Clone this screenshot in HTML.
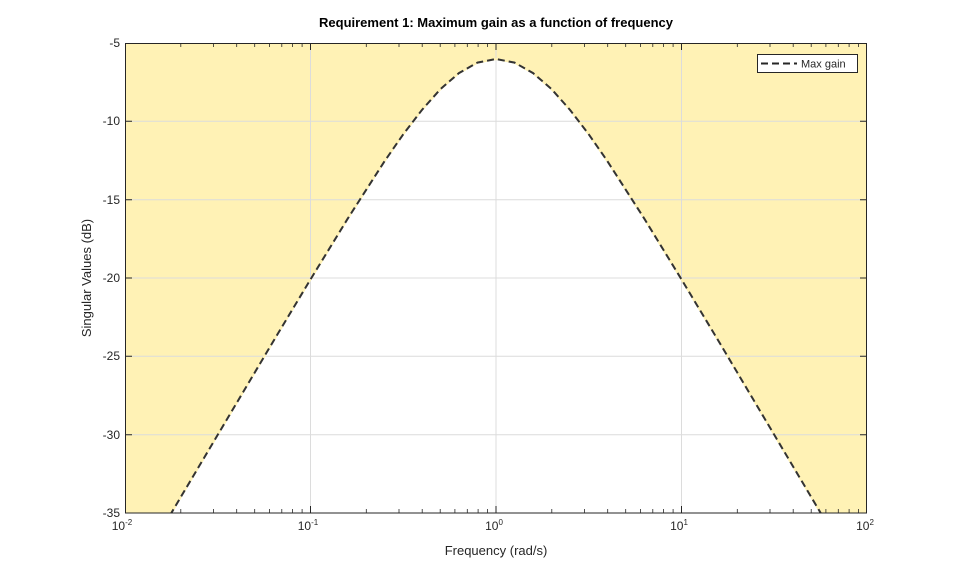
<!DOCTYPE html><html><head><style>body{margin:0;background:#fff}svg{display:block}text{font-family:"Liberation Sans",sans-serif;fill:#262626}</style></head><body>
<svg width="959" height="577" xmlns="http://www.w3.org/2000/svg">
<defs><clipPath id="c"><rect x="125" y="43" width="742" height="470"/></clipPath></defs>
<rect x="125" y="43" width="742" height="470" fill="#fff"/>
<g clip-path="url(#c)">
<path fill="#fff2b5" d="M125,591 L217.75,434.8 L273.4,341.1 L310.5,279.4 L347.6,218.8 L384.7,161 L403.25,134.3 L421.8,110.1 L440.35,89.2 L458.9,73.1 L477.45,62.6 L496,59 L514.55,62.6 L533.1,73.1 L551.65,89.2 L570.2,110.1 L588.75,134.3 L607.3,161 L644.4,218.8 L681.5,279.4 L718.6,341.1 L774.25,434.8 L867,591 L867,43 L125,43 Z"/>
<g stroke="#dcdcdc" stroke-width="1">
<line x1="310.5" y1="43" x2="310.5" y2="513"/><line x1="496" y1="43" x2="496" y2="513"/><line x1="681.5" y1="43" x2="681.5" y2="513"/>
<line x1="125" y1="121.3" x2="867" y2="121.3"/><line x1="125" y1="199.7" x2="867" y2="199.7"/><line x1="125" y1="278" x2="867" y2="278"/><line x1="125" y1="356.3" x2="867" y2="356.3"/><line x1="125" y1="434.7" x2="867" y2="434.7"/>
</g>
<path fill="none" stroke="#fff2b5" stroke-width="2" d="M125,591 L217.75,434.8 L273.4,341.1 L310.5,279.4 L347.6,218.8 L384.7,161 L403.25,134.3 L421.8,110.1 L440.35,89.2 L458.9,73.1 L477.45,62.6 L496,59 L514.55,62.6 L533.1,73.1 L551.65,89.2 L570.2,110.1 L588.75,134.3 L607.3,161 L644.4,218.8 L681.5,279.4 L718.6,341.1 L774.25,434.8 L867,591"/>
<path fill="none" stroke="#333" stroke-width="2" stroke-dasharray="7,4" d="M125,591 L217.75,434.8 L273.4,341.1 L310.5,279.4 L347.6,218.8 L384.7,161 L403.25,134.3 L421.8,110.1 L440.35,89.2 L458.9,73.1 L477.45,62.6 L496,59 L514.55,62.6 L533.1,73.1 L551.65,89.2 L570.2,110.1 L588.75,134.3 L607.3,161 L644.4,218.8 L681.5,279.4 L718.6,341.1 L774.25,434.8 L867,591"/>
</g>
<g id="tk" stroke="#262626" stroke-width="1"></g>
<rect x="125.5" y="43.5" width="741" height="469.5" fill="none" stroke="#262626"/>
<g stroke="#262626">
<!-- major x ticks -->
<path d="M310.5,513v-7M496,513v-7M681.5,513v-7M310.5,43v7M496,43v7M681.5,43v7"/>
<path d="M125,121.3h7M125,199.7h7M125,278h7M125,356.3h7M125,434.7h7M867,121.3h-7M867,199.7h-7M867,278h-7M867,356.3h-7M867,434.7h-7"/>
<path stroke-width="0.8" d="M180.8,513v-4M213.5,513v-4M236.7,513v-4M254.7,513v-4M269.4,513v-4M281.8,513v-4M292.6,513v-4M302.1,513v-4
M366.3,513v-4M399,513v-4M422.2,513v-4M440.2,513v-4M454.9,513v-4M467.3,513v-4M478.1,513v-4M487.6,513v-4
M551.8,513v-4M584.5,513v-4M607.7,513v-4M625.7,513v-4M640.4,513v-4M652.8,513v-4M663.6,513v-4M673.1,513v-4
M737.3,513v-4M770,513v-4M793.2,513v-4M811.2,513v-4M825.9,513v-4M838.3,513v-4M849.1,513v-4M858.6,513v-4
M180.8,43v4M213.5,43v4M236.7,43v4M254.7,43v4M269.4,43v4M281.8,43v4M292.6,43v4M302.1,43v4
M366.3,43v4M399,43v4M422.2,43v4M440.2,43v4M454.9,43v4M467.3,43v4M478.1,43v4M487.6,43v4
M551.8,43v4M584.5,43v4M607.7,43v4M625.7,43v4M640.4,43v4M652.8,43v4M663.6,43v4M673.1,43v4
M737.3,43v4M770,43v4M793.2,43v4M811.2,43v4M825.9,43v4M838.3,43v4M849.1,43v4M858.6,43v4"/>
</g>
<g font-size="12" text-anchor="end">
<text x="120" y="47">-5</text><text x="120" y="125">-10</text><text x="120" y="204">-15</text><text x="120" y="282">-20</text><text x="120" y="360">-25</text><text x="120" y="439">-30</text><text x="120" y="517">-35</text>
</g>
<g font-size="12" text-anchor="middle">
<text x="122" y="530">10<tspan font-size="8" dy="-5">-2</tspan></text>
<text x="308" y="530">10<tspan font-size="8" dy="-5">-1</tspan></text>
<text x="494" y="530">10<tspan font-size="8" dy="-5">0</tspan></text>
<text x="679" y="530">10<tspan font-size="8" dy="-5">1</tspan></text>
<text x="865" y="530">10<tspan font-size="8" dy="-5">2</tspan></text>
</g>
<text x="496" y="555" font-size="13" text-anchor="middle">Frequency (rad/s)</text>
<text transform="translate(91,278) rotate(-90)" font-size="13" text-anchor="middle">Singular Values (dB)</text>
<text x="496" y="27" font-size="13" font-weight="bold" text-anchor="middle" style="fill:#000">Requirement 1: Maximum gain as a function of frequency</text>
<rect x="757.5" y="54.5" width="100" height="18" fill="#fff" stroke="#262626"/>
<path d="M761,63.5h36" stroke="#262626" stroke-width="2" stroke-dasharray="7,4"/>
<text x="801" y="67.5" font-size="11">Max gain</text>
</svg>
</body></html>
